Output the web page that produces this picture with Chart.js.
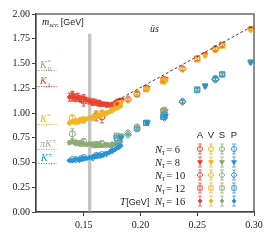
<!DOCTYPE html>
<html>
<head>
<meta charset="utf-8">
<script src="https://cdn.jsdelivr.net/npm/chart.js@4.4.0/dist/chart.umd.min.js"></script>
<style>
  html, body { margin: 0; padding: 0; background: #fff; }
</style>
</head>
<body>
<canvas id="chart" width="274" height="240"></canvas>
<script>
// axes
const xTicks = [0.15, 0.20, 0.25, 0.30];
const yTicks = [0, 0.25, 0.5, 0.75, 1.0, 1.25, 1.5, 1.75, 2.0];

// vacuum masses (GeV) and labels on the left
const hadronNames = ['K0*', 'K1', 'K*', 'piK', 'K'];
const hadronMass = [1.43, 1.27, 0.892, 0.633, 0.494];

// pseudo-critical temperature band and free limit 2*pi*T
const tcBand = [0.1538, 0.1568];
const freeLimitT = [0.176, 0.30];
const freeLimitM = [1.106, 1.885];

// N_tau = 6
const T6 = [0.140, 0.150, 0.161, 0.166, 0.180, 0.197, 0.221, 0.266];
const A6 = [1.17, 1.12, 0.97, 0.96, 1.11, 1.19, 1.34, 1.65];
const V6 = [0.95, 0.93, 0.98, 1.00, 1.09, 1.20, 1.33, 1.64];
const S6 = [0.79, 0.71, 0.68, 0.69, 0.73, 0.86, 1.03, 1.35];
const P6 = [0.53, 0.55, 0.57, 0.58, 0.66, 0.84, 0.98, 1.34];
const A6err = [0.05, 0.05, 0.05, 0.06, 0.03, 0.02, 0.02, 0.02];
const V6err = [0.03, 0.03, 0.03, 0.03, 0.02, 0.02, 0.02, 0.02];
const S6err = [0.05, 0.03, 0.03, 0.03, 0.02, 0.02, 0.02, 0.02];
const P6err = [0.01, 0.01, 0.01, 0.01, 0.01, 0.015, 0.02, 0.02];

// N_tau = 8
const T8 = [0.146, 0.170, 0.183, 0.206, 0.222, 0.257, 0.297];
const A8 = [1.15, 1.09, 1.13, 1.25, 1.34, 1.59, 1.85];
const V8 = [0.92, 1.00, 1.11, 1.24, 1.33, 1.58, 1.84];
const S8 = [0.70, 0.68, 0.77, 0.91, 1.02, 1.28, 1.52];
const P8 = [0.53, 0.59, 0.75, 0.90, 0.97, 1.27, 1.51];
const A8err = [0.03, 0.02, 0.02, 0.02, 0.02, 0.02, 0.02];
const V8err = [0.02, 0.02, 0.02, 0.015, 0.015, 0.015, 0.015];
const S8err = [0.02, 0.02, 0.02, 0.015, 0.015, 0.015, 0.015];
const P8err = [0.01, 0.01, 0.01, 0.01, 0.01, 0.015, 0.015];

// N_tau = 10
const T10 = [0.143, 0.158, 0.175, 0.189, 0.221, 0.237, 0.266];
const A10 = [1.16, 1.11, 1.08, 1.14, 1.33, 1.45, 1.65];
const V10 = [0.91, 0.95, 1.03, 1.13, 1.32, 1.44, 1.64];
const S10 = [0.70, 0.68, 0.68, 0.80, 1.00, 1.12, 1.34];
const P10 = [0.53, 0.55, 0.62, 0.78, 0.95, 1.11, 1.34];
const A10err = [0.03, 0.03, 0.02, 0.02, 0.02, 0.02, 0.02];
const V10err = [0.02, 0.02, 0.02, 0.015, 0.015, 0.015, 0.015];
const S10err = [0.02, 0.02, 0.02, 0.02, 0.015, 0.015, 0.015];
const P10err = [0.01, 0.01, 0.01, 0.01, 0.01, 0.015, 0.015];

// N_tau = 12
const T12 = [0.148, 0.163, 0.179, 0.205, 0.220, 0.250, 0.272];
const A12 = [1.14, 1.10, 1.10, 1.25, 1.33, 1.55, 1.69];
const V12 = [0.93, 0.97, 1.09, 1.24, 1.32, 1.54, 1.68];
const S12 = [0.69, 0.68, 0.77, 0.90, 1.02, 1.24, 1.39];
const P12 = [0.54, 0.57, 0.75, 0.90, 0.96, 1.23, 1.39];
const A12err = [0.03, 0.03, 0.02, 0.02, 0.02, 0.02, 0.02];
const V12err = [0.02, 0.02, 0.02, 0.015, 0.015, 0.015, 0.015];
const S12err = [0.02, 0.02, 0.02, 0.015, 0.015, 0.015, 0.015];
const P12err = [0.01, 0.01, 0.01, 0.01, 0.01, 0.015, 0.015];

// N_tau = 16
const T16 = [0.1375, 0.140, 0.1425, 0.145, 0.1475, 0.150, 0.1525, 0.155, 0.1575, 0.160,
             0.1625, 0.165, 0.1675, 0.170, 0.1725, 0.175, 0.1775, 0.180, 0.1825];
const A16 = [1.16, 1.17, 1.15, 1.16, 1.14, 1.15, 1.13, 1.12, 1.11, 1.11,
             1.10, 1.09, 1.09, 1.08, 1.08, 1.08, 1.09, 1.10, 1.11];
const V16 = [0.90, 0.91, 0.92, 0.91, 0.93, 0.93, 0.94, 0.95, 0.95, 0.96,
             0.97, 0.98, 0.99, 1.00, 1.01, 1.03, 1.04, 1.05, 1.07];
const S16 = [0.70, 0.71, 0.70, 0.69, 0.70, 0.69, 0.68, 0.69, 0.68, 0.67,
             0.68, 0.67, 0.67, 0.68, 0.67, 0.68, 0.69, 0.70, 0.71];
const P16 = [0.52, 0.52, 0.53, 0.53, 0.53, 0.54, 0.54, 0.55, 0.55, 0.56,
             0.57, 0.57, 0.58, 0.59, 0.60, 0.62, 0.63, 0.65, 0.67];
const A16err = [0.04, 0.04, 0.035, 0.04, 0.03, 0.035, 0.03, 0.03, 0.03, 0.03,
                0.025, 0.025, 0.02, 0.02, 0.02, 0.02, 0.015, 0.015, 0.015];
const V16err = [0.02, 0.02, 0.02, 0.02, 0.015, 0.015, 0.015, 0.015, 0.015, 0.015,
                0.015, 0.015, 0.01, 0.01, 0.01, 0.01, 0.01, 0.01, 0.01];
const S16err = [0.02, 0.02, 0.02, 0.015, 0.015, 0.015, 0.015, 0.015, 0.015, 0.015,
                0.015, 0.015, 0.01, 0.01, 0.01, 0.01, 0.01, 0.01, 0.01];
const P16err = [0.01, 0.01, 0.01, 0.01, 0.01, 0.01, 0.01, 0.01, 0.01, 0.01,
                0.01, 0.01, 0.01, 0.01, 0.01, 0.01, 0.01, 0.01, 0.01];

const channels = ['A', 'V', 'S', 'P'];
const colors = ['#e5432e', '#f0b323', '#8caa74', '#2a93d1'];
const hadronColors = ['#8caa74', '#e5432e', '#f0b323', '#a8a8a8', '#2a93d1'];

const SERIF = '"Liberation Serif"';
const SANS = '"Liberation Sans"';

const runs = [
  { nt: 6,  T: T6,  vals: [A6, V6, S6, P6],     errs: [A6err, V6err, S6err, P6err],     style: 'circle',   r: 3,   rot: 0,   filled: false },
  { nt: 8,  T: T8,  vals: [A8, V8, S8, P8],     errs: [A8err, V8err, S8err, P8err],     style: 'triangle', r: 3.2, rot: 180, filled: true },
  { nt: 10, T: T10, vals: [A10, V10, S10, P10], errs: [A10err, V10err, S10err, P10err], style: 'rectRot',  r: 3.5, rot: 0,   filled: false },
  { nt: 12, T: T12, vals: [A12, V12, S12, P12], errs: [A12err, V12err, S12err, P12err], style: 'rect',     r: 3.6, rot: 0,   filled: false },
  { nt: 16, T: T16, vals: [A16, V16, S16, P16], errs: [A16err, V16err, S16err, P16err], style: 'rectRot',  r: 2.4, rot: 0,   filled: true }
];

// channel drawing order: A under V, S under P
const drawOrder = [0, 1, 2, 3];

const datasets = [];
drawOrder.forEach(c => {
  runs.forEach(run => {
    datasets.push({
      label: channels[c] + ' Nt=' + run.nt,
      data: run.T.map((t, i) => ({ x: t, y: run.vals[c][i] })),
      errs: run.errs[c],
      order: -datasets.length,
      pointStyle: run.style,
      pointRadius: run.r,
      pointRotation: run.rot,
      pointBorderWidth: 1,
      pointBorderColor: colors[c],
      pointBackgroundColor: run.filled ? colors[c] : 'rgba(255,255,255,0)',
      showLine: false
    });
  });
});

datasets.push({
  label: '2 pi T',
  data: freeLimitT.map((t, i) => ({ x: t, y: freeLimitM[i] })),
  order: -100,
  showLine: true,
  borderColor: '#333',
  borderWidth: 0.9,
  borderDash: [3, 2],
  pointRadius: 0
});

// draw "base + sub/sup" math pieces left to right
function run(ctx, parts, x, y) {
  parts.forEach(p => {
    ctx.font = p[1];
    ctx.fillText(p[0], x, y + (p[2] || 0));
    x += ctx.measureText(p[0]).width + (p[3] || 0);
  });
  return x;
}

const decorations = {
  id: 'decorations',
  beforeDatasetsDraw(chart) {
    const { ctx, scales: { x, y }, chartArea } = chart;
    ctx.save();
    // Tc band
    const b0 = x.getPixelForValue(tcBand[0]), b1 = x.getPixelForValue(tcBand[1]);
    const bt = y.getPixelForValue(1.8);
    ctx.fillStyle = '#c4c4c4';
    ctx.fillRect(b0, bt, b1 - b0, chartArea.bottom - bt);

    // vacuum mass lines
    ctx.lineWidth = 1;
    ctx.setLineDash([1.2, 1.3]);
    hadronMass.forEach((m, i) => {
      const py = Math.round(y.getPixelForValue(m)) + 0.5;
      ctx.strokeStyle = hadronColors[i];
      ctx.beginPath();
      ctx.moveTo(chartArea.left, py);
      ctx.lineTo(x.getPixelForValue(0.126), py);
      ctx.stroke();
    });
    ctx.setLineDash([]);

    // error bars
    chart.data.datasets.forEach(ds => {
      if (!ds.errs) return;
      ctx.strokeStyle = ds.pointBorderColor;
      ctx.lineWidth = 0.9;
      ds.data.forEach((p, i) => {
        const px = x.getPixelForValue(p.x);
        const lo = y.getPixelForValue(p.y - ds.errs[i]);
        const hi = y.getPixelForValue(p.y + ds.errs[i]);
        ctx.beginPath();
        ctx.moveTo(px, lo); ctx.lineTo(px, hi);
        ctx.moveTo(px - 2, lo); ctx.lineTo(px + 2, lo);
        ctx.moveTo(px - 2, hi); ctx.lineTo(px + 2, hi);
        ctx.stroke();
      });
    });
    ctx.restore();
  },
  afterDraw(chart) {
    const { ctx, scales: { x, y }, chartArea } = chart;
    ctx.save();
    // frame
    ctx.strokeStyle = '#444';
    ctx.lineWidth = 1.2;
    ctx.strokeRect(chartArea.left, chartArea.top, chartArea.right - chartArea.left, chartArea.bottom - chartArea.top);

    ctx.textBaseline = 'alphabetic';
    ctx.textAlign = 'left';
    const it = s => 'italic ' + s + 'px ' + SERIF;
    const rm = s => s + 'px ' + SERIF;

    // header text
    ctx.fillStyle = '#222';
    let cx = run(ctx, [['m', it(10)], ['scr.', it(7), 2, 2]], 42, 25);
    run(ctx, [['[GeV]', '9px ' + SANS]], cx, 25);
    run(ctx, [['\u016Bs', it(10)]], 150, 32);

    // vacuum mass labels
    const lx = 40;
    const ly = hadronMass.map(m => y.getPixelForValue(m) - 2);
    ctx.fillStyle = hadronColors[0];
    run(ctx, [['K', it(10), 0, 0.5], ['*', rm(7), -4, -3], ['0', rm(7), 2.5]], lx, ly[0]);
    ctx.fillStyle = hadronColors[1];
    run(ctx, [['K', it(10), 0, 0.5], ['1', rm(7), 2.5]], lx, ly[1]);
    ctx.fillStyle = hadronColors[2];
    run(ctx, [['K', it(10), 0, 0.5], ['*', rm(7), -4]], lx, ly[2]);
    ctx.fillStyle = hadronColors[3];
    run(ctx, [['\u03C0K', it(10), 0, 0.5], ['\u00B1', rm(7), -4]], lx, ly[3]);
    ctx.fillStyle = hadronColors[4];
    run(ctx, [['K', it(10), 0, 0.5], ['\u00B1', rm(7), -4]], lx + 1, ly[4]);

    // legend
    const colX = [200, 211, 222, 234];
    const rowY = [149, 162, 175, 188, 201];
    ctx.fillStyle = '#222';
    ctx.font = '9.5px ' + SANS;
    ctx.textAlign = 'center';
    channels.forEach((ch, c) => ctx.fillText(ch, colX[c], 138));
    ctx.textAlign = 'left';
    runs.forEach((r, k) => {
      ctx.fillStyle = '#222';
      run(ctx, [['N', it(10.5)], ['\u03C4', it(7.5), 2, 1.5], ['= ' + r.nt, rm(10.5)]], 155, rowY[k] + 3.5);
      channels.forEach((ch, c) => {
        const px = colX[c], py = rowY[k];
        ctx.strokeStyle = colors[c];
        ctx.lineWidth = 0.8;
        ctx.beginPath();
        ctx.moveTo(px, py - 5); ctx.lineTo(px, py + 5);
        ctx.moveTo(px - 1.8, py - 5); ctx.lineTo(px + 1.8, py - 5);
        ctx.moveTo(px - 1.8, py + 5); ctx.lineTo(px + 1.8, py + 5);
        ctx.stroke();
        ctx.lineWidth = 0.9;
        ctx.fillStyle = r.filled ? colors[c] : 'rgba(255,255,255,0)';
        Chart.helpers.drawPoint(ctx, { pointStyle: r.style, radius: r.r * 0.85, rotation: r.rot, borderWidth: 0.9 }, px, py);
      });
    });

    // axis label inside the frame
    ctx.fillStyle = '#222';
    cx = run(ctx, [['T', it(10.5), 0, 0.5]], 120, 205);
    run(ctx, [['[GeV]', '9px ' + SANS]], cx, 205);
    ctx.restore();
  }
};

new Chart(document.getElementById('chart'), {
  type: 'scatter',
  data: { datasets: datasets },
  options: {
    responsive: false,
    animation: false,
    devicePixelRatio: 1,
    layout: { padding: { top: 14, right: 20, left: 0, bottom: 0 } },
    plugins: { legend: { display: false }, tooltip: { enabled: false } },
    scales: {
      x: {
        type: 'linear',
        min: 0.108,
        max: 0.30,
        afterBuildTicks: s => { s.ticks = xTicks.map(v => ({ value: v })); },
        afterFit: s => { s.height = 28; },
        ticks: {
          color: '#222',
          padding: 3,
          font: { family: SERIF, size: 10 },
          callback: v => v.toFixed(2)
        },
        grid: { drawOnChartArea: false, drawTicks: true, tickLength: 4, color: '#444' },
        border: { color: '#444', width: 1.2 }
      },
      y: {
        type: 'linear',
        min: 0,
        max: 2,
        afterBuildTicks: s => { s.ticks = yTicks.map(v => ({ value: v })); },
        afterFit: s => { s.width = 36; },
        ticks: {
          color: '#222',
          padding: 2,
          font: { family: SERIF, size: 10 },
          callback: v => v.toFixed(2)
        },
        grid: { drawOnChartArea: false, drawTicks: true, tickLength: 4, color: '#444' },
        border: { color: '#444', width: 1.2 }
      }
    }
  },
  plugins: [decorations]
});
</script>
</body>
</html>
